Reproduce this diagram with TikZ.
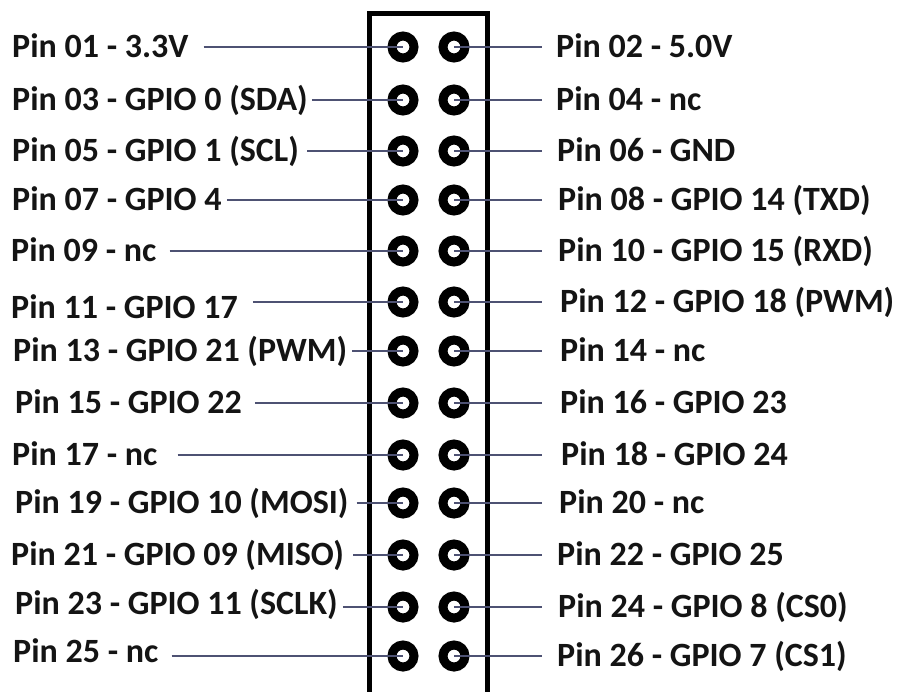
\documentclass[tikz,border=0pt]{standalone}
\usepackage{fontspec}
\setmainfont{Carlito}
\definecolor{wirecol}{RGB}{78,82,115}
\definecolor{txtcol}{RGB}{20,20,20}
\begin{document}
\begin{tikzpicture}[x=1pt,y=-1pt,
  pinlabel/.style={anchor=base west,inner sep=0pt,text=txtcol,font=\fontsize{34}{40}\selectfont\bfseries},
  pinhole/.style={circle,draw=black,line width=9pt,minimum size=22pt,inner sep=0pt},
  wire/.style={draw=wirecol,line width=1.6pt},
  header/.style={draw=black,line width=5pt,line join=miter}]
\useasboundingbox[fill=white] (0,0) rectangle (901,691);
% header outline (open at bottom)
\draw[header] (369,700) -- (369,13) -- (487,13) -- (487,700);
% left column: row / y / label x / text / gap / yshift
\foreach \i/\y/\lx/\lt/\g/\s in {
  1/47/12/{Pin 01 - 3.3V}/15/0,
  2/100/12/{Pin 03 - GPIO 0 (SDA)}/4/0,
  3/151/12/{Pin 05 - GPIO 1 (SCL)}/8/0,
  4/200/12/{Pin 07 - GPIO 4}/5/0,
  5/251/11/{Pin 09 - nc}/13/0,
  6/302/11/{Pin 11 - GPIO 17}/15/6,
  7/351/13/{Pin 13 - GPIO 21 (PWM)}/5/0,
  8/403/15/{Pin 15 - GPIO 22}/13/0,
  9/455/12/{Pin 17 - nc}/20/0,
  10/503/15/{Pin 19 - GPIO 10 (MOSI)}/8/0,
  11/555/11/{Pin 21 - GPIO 09 (MISO)}/9/0,
  12/607/15/{Pin 23 - GPIO 11 (SCLK)}/5/-3,
  13/656/13/{Pin 25 - nc}/13/-4}{
  \node[pinhole] (PL\i) at (403,\y) {};
  \node[pinlabel] (L\i) at (\lx,\y+10.8+\s) {\lt};
  \draw[wire] ([xshift=\g pt]L\i.east |- PL\i.center) -- (PL\i.center);
}
% right column: row / y / label x / text
\foreach \i/\y/\lx/\lt in {
  1/47/556/{Pin 02 - 5.0V},
  2/100/556/{Pin 04 - nc},
  3/151/557/{Pin 06 - GND},
  4/200/558/{Pin 08 - GPIO 14 (TXD)},
  5/251/558/{Pin 10 - GPIO 15 (RXD)},
  6/302/560/{Pin 12 - GPIO 18 (PWM)},
  7/351/560/{Pin 14 - nc},
  8/403/560/{Pin 16 - GPIO 23},
  9/455/561/{Pin 18 - GPIO 24},
  10/503/559/{Pin 20 - nc},
  11/555/557/{Pin 22 - GPIO 25},
  12/607/558/{Pin 24 - GPIO 8 (CS0)},
  13/656/557/{Pin 26 - GPIO 7 (CS1)}}{
  \node[pinhole] (PR\i) at (454,\y) {};
  \node[pinlabel] (R\i) at (\lx,\y+10.8) {\lt};
  \pgfmathsetmacro{\rg}{\lx-542}
  \draw[wire] (PR\i.center) -- ([xshift=-\rg pt]R\i.west |- PR\i.center);
}
\end{tikzpicture}
\end{document}
